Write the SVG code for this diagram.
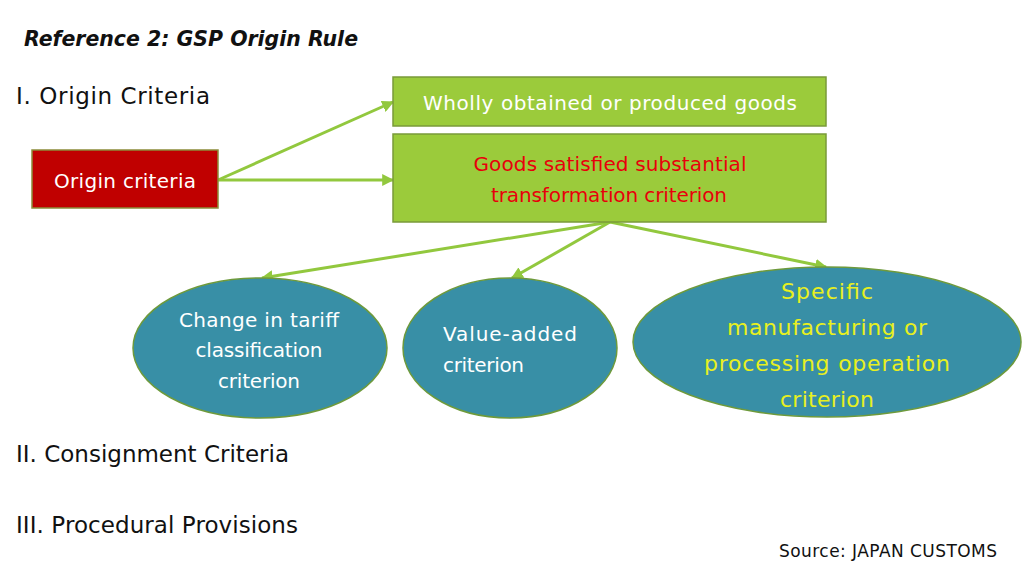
<svg xmlns="http://www.w3.org/2000/svg" width="1024" height="576" viewBox="0 0 1024 576">
<defs>
<style>
text{font-family:"DejaVu Sans","Liberation Sans",sans-serif;}
.h{font-size:23px;fill:#111;}
.w{fill:#fff;font-size:20px;text-anchor:middle;}
.r{fill:#E8000B;}
.y{fill:#E8F020;font-size:22px;}
.box{fill:#9BCB3B;stroke:#7A9A3A;stroke-width:1.5;}
.ell{fill:#388FA6;stroke:#6E9A3C;stroke-width:1.5;}
.con{stroke:#92C83E;stroke-width:3;fill:none;marker-end:url(#ah);}
</style>
<marker id="ah" viewBox="0 0 10 10" refX="9" refY="5" markerWidth="4" markerHeight="4" orient="auto" markerUnits="strokeWidth">
<path d="M0,0 L10,5 L0,10 z" fill="#92C83E"/>
</marker>
</defs>
<rect width="1024" height="576" fill="#fff"/>
<text x="24" y="46" textLength="334" lengthAdjust="spacingAndGlyphs" style="font-size:22px;font-weight:bold;font-style:italic;fill:#111">Reference 2: GSP Origin Rule</text>
<text class="h" x="16" y="104" textLength="194" lengthAdjust="spacing">I. Origin Criteria</text>
<text class="h" x="16" y="462" textLength="273" lengthAdjust="spacing">II. Consignment Criteria</text>
<text class="h" x="16" y="533" textLength="282" lengthAdjust="spacing">III. Procedural Provisions</text>
<text x="779" y="557" textLength="218" lengthAdjust="spacing" style="font-size:17px;fill:#111">Source: JAPAN CUSTOMS</text>
<g id="connectors">
<line class="con" x1="218" y1="180" x2="393" y2="102"/>
<line class="con" x1="218" y1="180" x2="393" y2="180"/>
<line class="con" x1="610" y1="222" x2="262" y2="278"/>
<line class="con" x1="610" y1="222" x2="512" y2="278"/>
<line class="con" x1="610" y1="222" x2="826" y2="267"/>
</g>
<g id="origin">
<rect x="32" y="150" width="186" height="58" fill="#C00000" stroke="#8C8C3A" stroke-width="1.5"/>
<text class="w" x="125" y="188" textLength="142" lengthAdjust="spacing">Origin criteria</text>
</g>
<g id="wholly">
<rect class="box" x="393" y="77" width="433" height="49"/>
<text class="w" x="610" y="110" textLength="374" lengthAdjust="spacing">Wholly obtained or produced goods</text>
</g>
<g id="substantial">
<rect class="box" x="393" y="134" width="433" height="88"/>
<text class="w r" x="610" y="171" textLength="273" lengthAdjust="spacing">Goods satisfied substantial</text>
<text class="w r" x="609" y="202" textLength="236" lengthAdjust="spacing">transformation criterion</text>
</g>
<g id="ctc">
<ellipse class="ell" cx="260" cy="348" rx="127" ry="70"/>
<text class="w" x="259" y="327" textLength="160" lengthAdjust="spacing">Change in tariff</text>
<text class="w" x="259" y="357" textLength="127" lengthAdjust="spacing">classification</text>
<text class="w" x="259" y="388" textLength="82" lengthAdjust="spacing">criterion</text>
</g>
<g id="va">
<ellipse class="ell" cx="510" cy="348" rx="107" ry="70"/>
<text x="443" y="341" textLength="134" lengthAdjust="spacing" style="fill:#fff;font-size:20px">Value-added</text>
<text x="443" y="372" textLength="81" lengthAdjust="spacing" style="fill:#fff;font-size:20px">criterion</text>
</g>
<g id="spo">
<ellipse class="ell" cx="827" cy="342" rx="194" ry="75"/>
<text class="w y" x="827" y="299" textLength="92" lengthAdjust="spacing">Specific</text>
<text class="w y" x="827" y="335" textLength="200" lengthAdjust="spacing">manufacturing or</text>
<text class="w y" x="827" y="371" textLength="246" lengthAdjust="spacing">processing operation</text>
<text class="w y" x="827" y="407" textLength="94" lengthAdjust="spacing">criterion</text>
</g>
</svg>
